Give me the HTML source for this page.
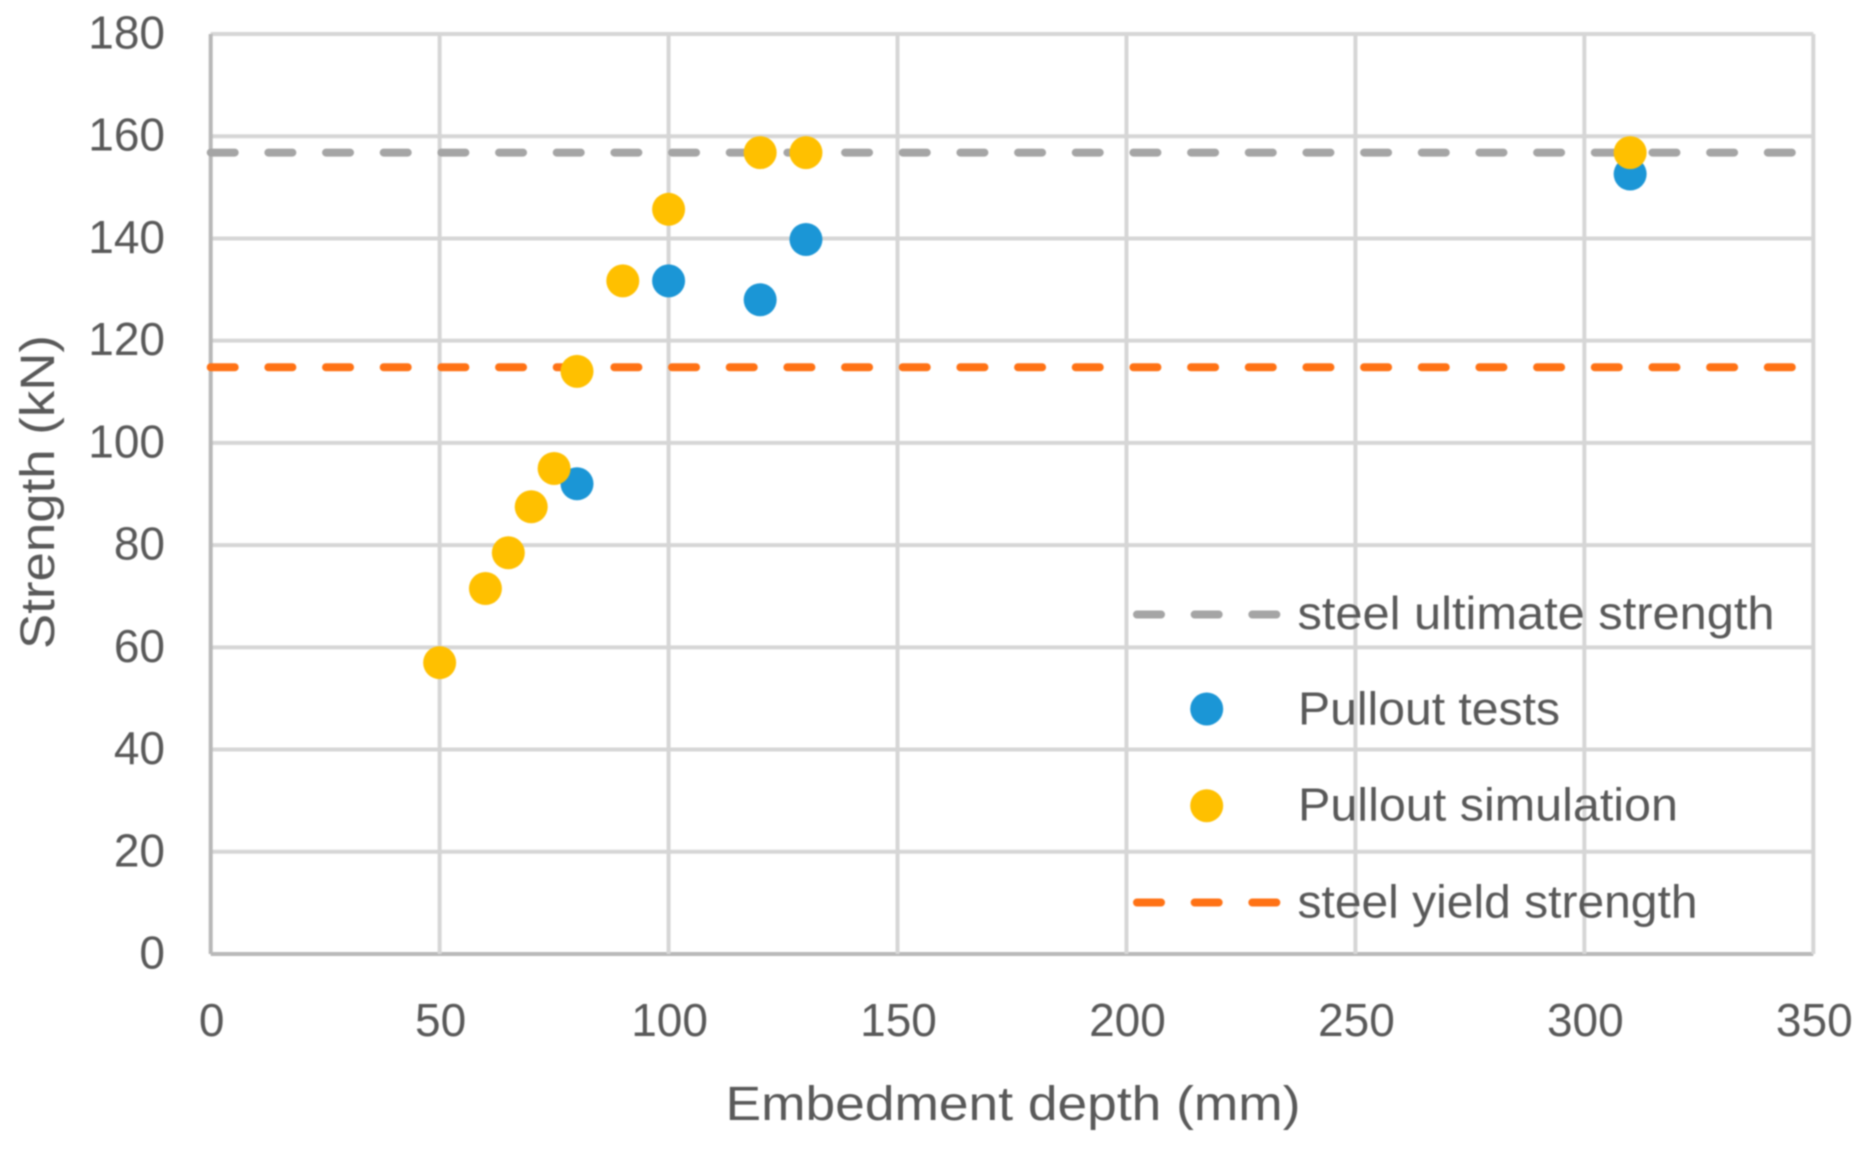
<!DOCTYPE html>
<html lang="en">
<head>
<meta charset="utf-8">
<title>Strength vs embedment depth</title>
<style>
html,body{margin:0;padding:0;background:#fff;}
body{width:1859px;height:1150px;overflow:hidden;}
svg{display:block;filter:blur(0.9px);}
text{font-family:"Liberation Sans",sans-serif;fill:#595959;}
</style>
</head>
<body>
<svg id="chart" xmlns="http://www.w3.org/2000/svg" width="1859" height="1150" viewBox="0 0 1859 1150">
  <rect x="0" y="0" width="1859" height="1150" fill="#ffffff"/>
  <g id="grid"></g>
  <g id="xticks"></g>
  <g id="yticks"></g>
  <g id="reflines"></g>
  <g id="points"></g>
  <text x="1013" y="1120" font-size="48" text-anchor="middle" textLength="575" lengthAdjust="spacingAndGlyphs">Embedment depth (mm)</text>
  <text transform="translate(54,492) rotate(-90)" font-size="48" text-anchor="middle" textLength="314" lengthAdjust="spacingAndGlyphs">Strength (kN)</text>
  <g>
    <g>
      <line x1="1137" x2="1277" y1="614.5" y2="614.5" stroke="#a5a5a5" stroke-width="8" stroke-linecap="round" stroke-dasharray="24 33.67"/>
      <text x="1297.5" y="629" font-size="46" textLength="477" lengthAdjust="spacingAndGlyphs">steel ultimate strength</text>
    </g>
    <g>
      <circle cx="1206.7" cy="709" r="16.5" fill="#1b96d6"/>
      <text x="1298" y="724.5" font-size="46" textLength="262" lengthAdjust="spacingAndGlyphs">Pullout tests</text>
    </g>
    <g>
      <circle cx="1206.7" cy="805.7" r="16.5" fill="#ffc000"/>
      <text x="1298" y="820.5" font-size="46" textLength="380" lengthAdjust="spacingAndGlyphs">Pullout simulation</text>
    </g>
    <g>
      <line x1="1137" x2="1277" y1="902.5" y2="902.5" stroke="#ff7215" stroke-width="8" stroke-linecap="round" stroke-dasharray="24 33.67"/>
      <text x="1297.5" y="917.5" font-size="46" textLength="400" lengthAdjust="spacingAndGlyphs">steel yield strength</text>
    </g>
  </g>
</svg>
<script>
const xTickValues = [0, 50, 100, 150, 200, 250, 300, 350];
const yTickValues = [0, 20, 40, 60, 80, 100, 120, 140, 160, 180];
const testsDepth = [80, 100, 120, 130, 310];
const testsStrength = [92, 131.7, 128, 139.8, 152.6];
const simulationDepth = [50, 60, 65, 70, 75, 80, 90, 100, 120, 130, 310];
const simulationStrength = [57, 71.5, 78.5, 87.5, 95, 114, 131.7, 145.7, 156.8, 156.8, 156.8];
const ultimateStrength = 156.8;
const yieldStrength = 114.8;
const lineDepthRange = [0, 346];

const NS = 'http://www.w3.org/2000/svg';
const plot = {left: 210.7, right: 1813.3, top: 34, bottom: 954};
const xMax = 350;
const yMax = 180;
function xScale(v) { return plot.left + (v / xMax) * (plot.right - plot.left); }
function yScale(v) { return plot.bottom - (v / yMax) * (plot.bottom - plot.top); }
function make(tag, attrs) {
  const el = document.createElementNS(NS, tag);
  for (const k in attrs) el.setAttribute(k, attrs[k]);
  return el;
}

const grid = document.getElementById('grid');
const xticks = document.getElementById('xticks');
const yticks = document.getElementById('yticks');
const reflines = document.getElementById('reflines');
const points = document.getElementById('points');

yTickValues.forEach(function (v) {
  const y = yScale(v);
  const line = make('line', {x1: plot.left, x2: plot.right, y1: y, y2: y, stroke: v === 0 ? '#b8b8b8' : '#d6d6d6', 'stroke-width': 4});
  
  
  grid.appendChild(line);
  const label = make('text', {x: 165, y: y + 14.5, 'font-size': 46, 'text-anchor': 'end'});
  
  
  label.textContent = String(v);
  yticks.appendChild(label);
});

xTickValues.forEach(function (v) {
  const x = xScale(v);
  const line = make('line', {x1: x, x2: x, y1: plot.top, y2: plot.bottom, stroke: v === 0 ? '#b8b8b8' : '#d6d6d6', 'stroke-width': 4});
  
  
  grid.appendChild(line);
  const label = make('text', {x: x + 1, y: 1036, 'font-size': 46, 'text-anchor': 'middle'});
  
  
  label.textContent = String(v);
  xticks.appendChild(label);
});

function addRefLine(value, color, name) {
  const line = make('line', {
    x1: xScale(lineDepthRange[0]), x2: xScale(lineDepthRange[1]),
    y1: yScale(value), y2: yScale(value),
    stroke: color, 'stroke-width': 8, 'stroke-linecap': 'round', 'stroke-dasharray': '24 33.67'
  });
  
  
  reflines.appendChild(line);
}
addRefLine(ultimateStrength, '#a5a5a5', 'steel-ultimate-strength-line');
addRefLine(yieldStrength, '#ff7215', 'steel-yield-strength-line');

function addPoints(xs, ys, color, name) {
  xs.forEach(function (d, i) {
    const c = make('circle', {cx: xScale(d), cy: yScale(ys[i]), r: 16.5, fill: color});
    
    
    points.appendChild(c);
  });
}
addPoints(testsDepth, testsStrength, '#1b96d6', 'pullout-tests');
addPoints(simulationDepth, simulationStrength, '#ffc000', 'pullout-simulation');
</script>
</body>
</html>
